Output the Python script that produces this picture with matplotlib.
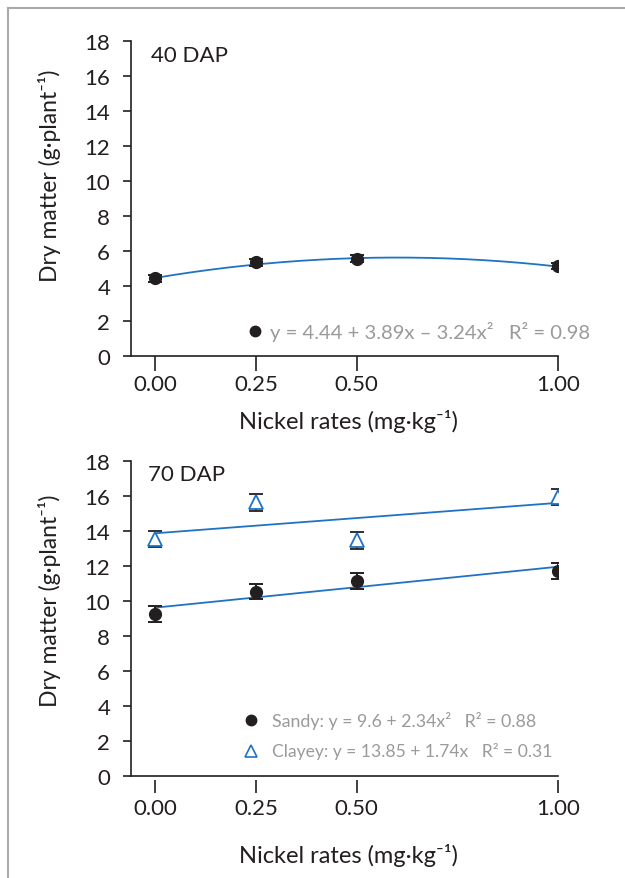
import numpy as np
import matplotlib
matplotlib.use("Agg")
from matplotlib import pyplot as plt
from matplotlib.lines import Line2D

plt.rcParams['font.family'] = ['Lato', 'DejaVu Sans']

# nickel rates (mg/kg)
rates = [0.0, 0.25, 0.50, 1.00]
tick_labels = ["0.00", "0.25", "0.50", "1.00"]

# 40 DAP
dap40_mean = [4.42, 5.33, 5.55, 5.13]
dap40_err = [0.19, 0.19, 0.21, 0.17]
dap40_fit = [4.44, 3.89, -3.24]   # c0, c1, c2

# 70 DAP
sandy_mean = [9.22, 10.52, 11.12, 11.70]
sandy_err = [0.46, 0.45, 0.45, 0.45]
sandy_fit = [9.6, 2.34, 0.0]      # drawn as a straight line in the figure
clayey_mean = [13.52, 15.62, 13.44, 15.92]
clayey_err = [0.47, 0.47, 0.47, 0.47]
clayey_fit = [13.85, 1.74, 0.0]

BLUE = "#1f72c4"
GREY = "#9a9a9a"
DARK = "#231f20"


def fit_curve(coef, xs):
    return coef[0] + coef[1] * xs + coef[2] * xs ** 2


def style_axes(ax, gap=0):
    ax.set_xlim(-0.0595, 1.0)
    ax.set_ylim(0, 18)
    ax.set_yticks(range(0, 19, 2))
    ax.set_xticks(rates)
    ax.set_xticklabels(tick_labels)
    for s in ("top", "right"):
        ax.spines[s].set_visible(False)
    ax.spines["left"].set_linewidth(1.2)
    ax.spines["left"].set_color(DARK)
    ax.spines["bottom"].set_linewidth(1.2)
    ax.spines["bottom"].set_color(DARK)
    ax.tick_params(axis="y", direction="out", length=6, width=1.2,
                   pad=9, labelsize=16, colors=DARK)
    ax.tick_params(axis="x", direction="out", width=1.2,
                   labelsize=16, colors=DARK)
    if gap:
        # ticks sit a little below the axis line
        ax.spines["bottom"].set_position(("outward", gap))
        ax.spines["bottom"].set_visible(False)
        ax.axhline(0, color=DARK, lw=1.2, clip_on=False)
        ax.tick_params(axis="x", length=9, pad=4)
    else:
        ax.tick_params(axis="x", length=10.5, pad=3)
    ax.set_ylabel("Dry matter (g·plant⁻¹)", fontsize=16.5, color=DARK)
    ax.set_xlabel("Nickel rates (mg·kg⁻¹)", fontsize=17, color=DARK)
    ax.xaxis.label.set_va("center")
    ax.yaxis.label.set_va("center")


fig = plt.figure(figsize=(6.25, 8.79), dpi=100)

# thin grey frame at top and left
fig.add_artist(Line2D([8 / 625, 8 / 625], [0, 1 - 9 / 879], color="#aaaaaa", lw=1.5))
fig.add_artist(Line2D([8 / 625, 1], [1 - 9 / 879, 1 - 9 / 879], color="#aaaaaa", lw=1.5))

xs = np.linspace(0, 1, 200)

# top panel - 40 DAP
ax1 = fig.add_axes([0.2096, 0.5942, 0.6837, 0.3584])
style_axes(ax1)
ax1.plot(xs, fit_curve(dap40_fit, xs), color=BLUE, lw=1.3, zorder=2)
ax1.errorbar(rates, dap40_mean, yerr=dap40_err, fmt="o", color=DARK,
             ms=8.5, capsize=5, elinewidth=1.4, capthick=1.4, zorder=3)
ax1.text(-0.01, 17.2, "40 DAP", fontsize=16, color=DARK, va="center")
ax1.plot([0.248], [1.41], "o", color=DARK, ms=7.5, clip_on=False)
ax1.text(0.285, 1.41, "y = 4.44 + 3.89x – 3.24x²   R² = 0.98",
         fontsize=14.6, color=GREY, va="center")
ax1.yaxis.set_label_coords(-0.19, 0.574)
ax1.xaxis.set_label_coords(0.508, -0.206)

# bottom panel - 70 DAP
ax2 = fig.add_axes([0.2096, 0.1164, 0.6837, 0.3584])
style_axes(ax2, gap=3)
ax2.plot(xs, fit_curve(sandy_fit, xs), color=BLUE, lw=1.3, zorder=2)
ax2.plot(xs, fit_curve(clayey_fit, xs), color=BLUE, lw=1.3, zorder=2)
ax2.errorbar(rates, sandy_mean, yerr=sandy_err, fmt="o", color=DARK,
             ms=8.5, capsize=5, elinewidth=1.4, capthick=1.4, zorder=3)
ax2.errorbar(rates, clayey_mean, yerr=clayey_err, fmt="^", color=DARK,
             mfc="white", mec=BLUE, mew=1.3, ms=10, capsize=5,
             elinewidth=1.4, capthick=1.4, zorder=3)
ax2.text(-0.018, 17.24, "70 DAP", fontsize=16, color=DARK, va="center")
ax2.plot([0.237], [3.2], "o", color=DARK, ms=7.5)
ax2.text(0.29, 3.2, "Sandy: y = 9.6 + 2.34x²   R² = 0.88",
         fontsize=12.8, color=GREY, va="center")
ax2.plot([0.237], [1.43], "^", mfc="white", mec=BLUE, mew=1.2, ms=8)
ax2.text(0.29, 1.43, "Clayey: y = 13.85 + 1.74x   R² = 0.31",
         fontsize=12.6, color=GREY, va="center")
ax2.yaxis.set_label_coords(-0.19, 0.558)
ax2.xaxis.set_label_coords(0.508, -0.249)

fig.savefig("out.png", dpi=100)
